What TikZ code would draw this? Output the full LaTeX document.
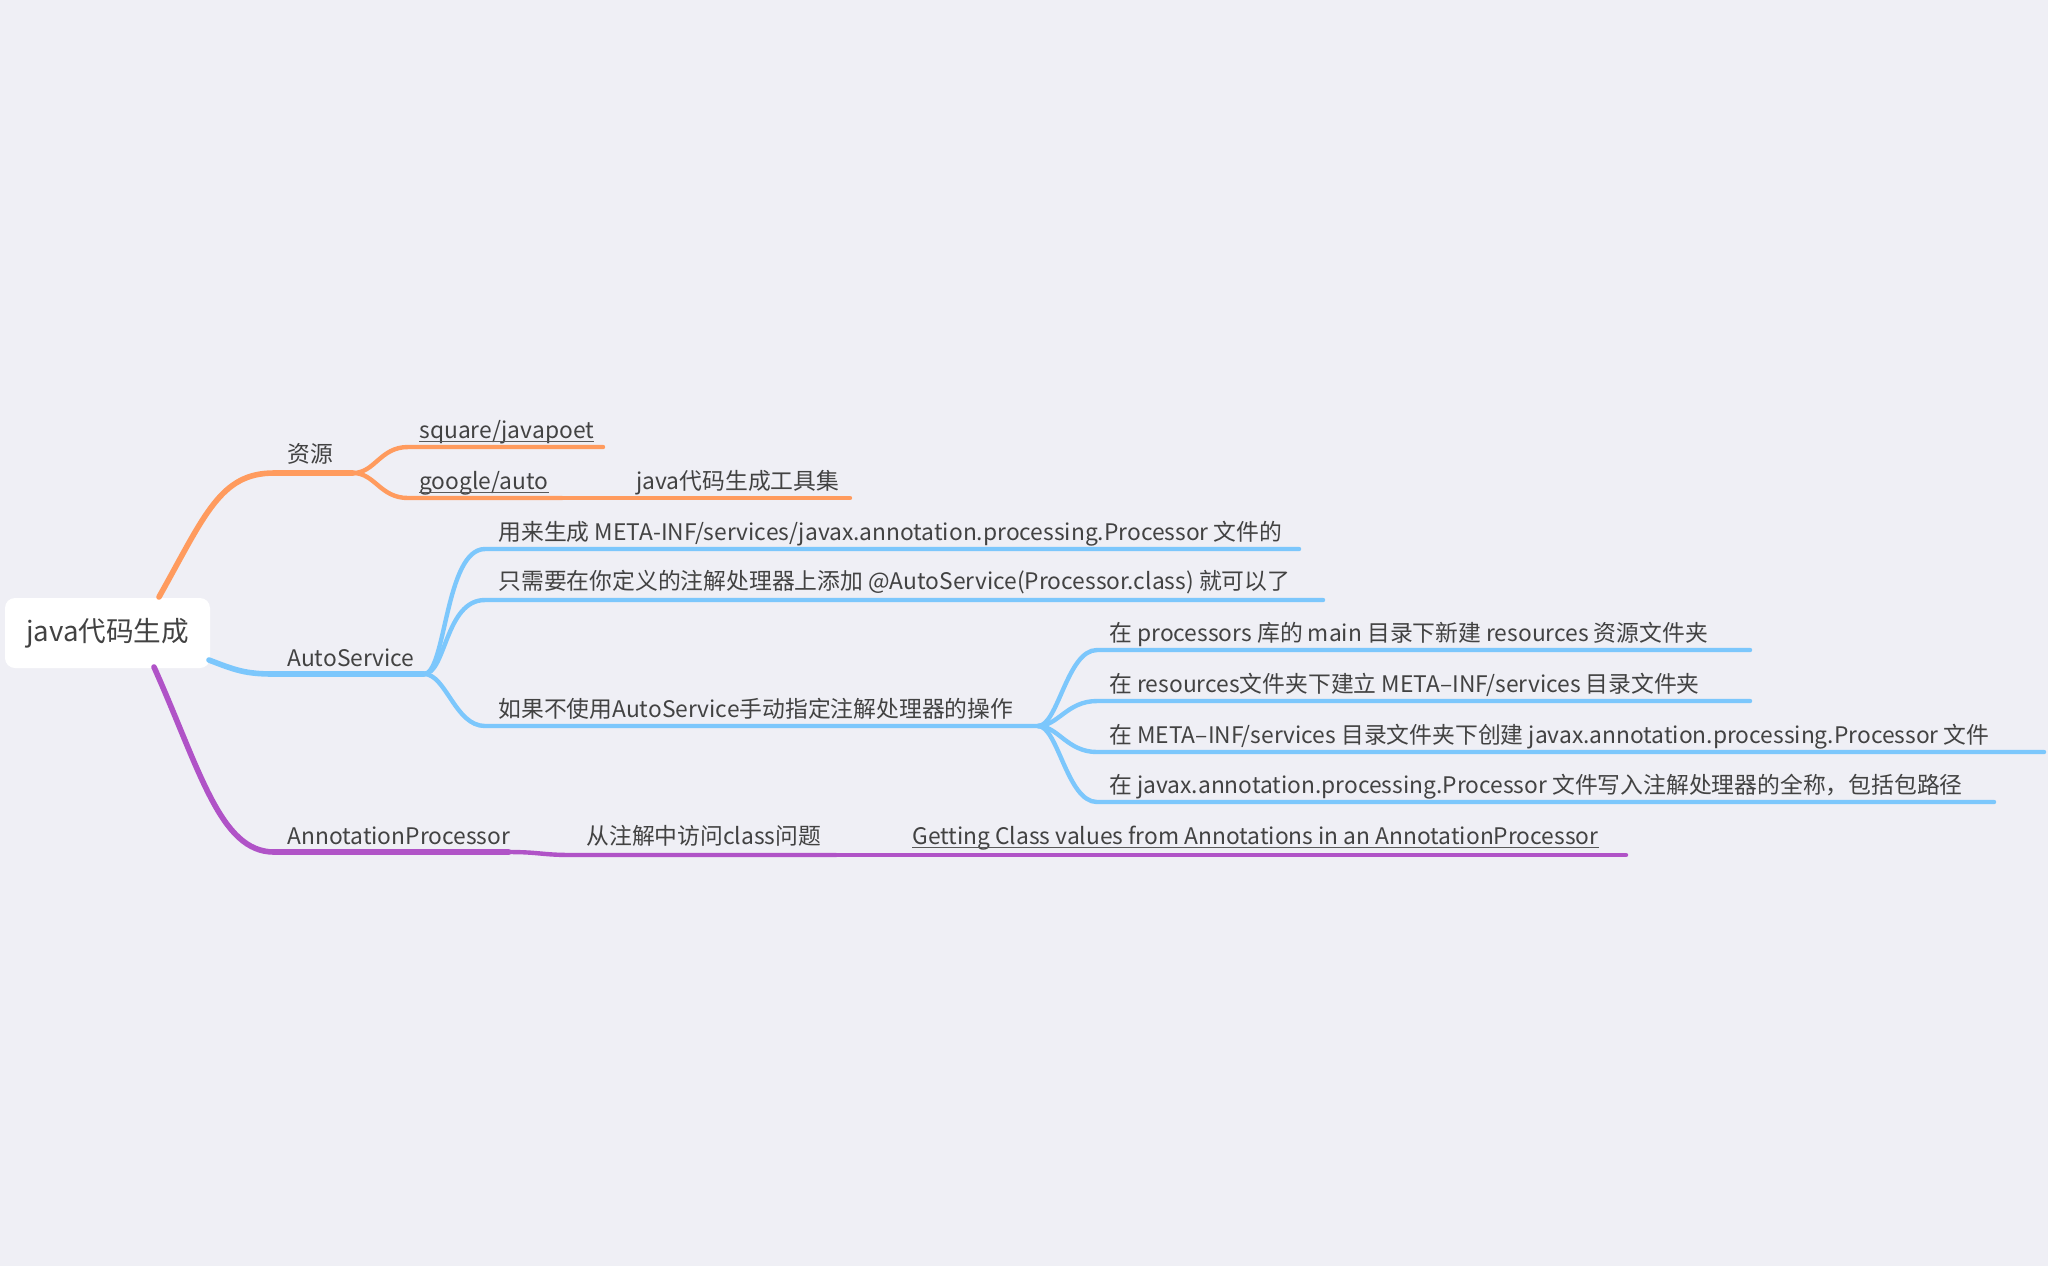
\documentclass[tikz,border=0pt]{standalone}
\usepackage{fontspec}
\setmainfont{Noto Sans CJK SC}
\definecolor{bg}{HTML}{EFEFF5}
\definecolor{orng}{HTML}{FF9B5E}
\definecolor{blu}{HTML}{7CC7FC}
\definecolor{purp}{HTML}{B053C7}
\definecolor{txt}{HTML}{424242}
\definecolor{ulc}{HTML}{5A5A5A}
\tikzset{
  br/.style={line width=2.8pt, line cap=round},
  sub/.style={line width=2.2pt, line cap=round},
  lbl/.style={font=\fontsize{11.4pt}{13pt}\selectfont, text=txt, inner sep=0pt, anchor=base west},
  ul/.style={draw=ulc, line width=0.7pt},
  rootbox/.style={fill=white, rounded corners=5pt, minimum width=102.5pt, minimum height=35pt, inner sep=0pt, text=txt, font=\fontsize{13.8pt}{16pt}\selectfont}
}
\begin{document}
\begin{tikzpicture}[x=0.5pt,y=-0.5pt]
\path[fill=bg, use as bounding box] (0,0) rectangle (2048,1266);

% root
\node[rootbox] (root) at (107.5,633) {java代码生成};

% ---------- coordinates ----------
\coordinate (oS) at (159,597);
\coordinate (oH) at (274,473);
\coordinate (oF) at (353,473);
\coordinate (sq0) at (408,447);
\coordinate (sq1) at (603,447);
\coordinate (go0) at (408,498);
\coordinate (go1) at (562,498);
\coordinate (go2) at (850,498);

\coordinate (bS) at (209,660);
\coordinate (bH) at (274,674);
\coordinate (bF) at (424,674);
\coordinate (b10) at (485,549);
\coordinate (b11) at (1299,549);
\coordinate (b20) at (485,600);
\coordinate (b21) at (1323,600);
\coordinate (b30) at (485,726);
\coordinate (b31) at (1038,726);
\coordinate (c10) at (1097,650);
\coordinate (c11) at (1750,650);
\coordinate (c20) at (1097,701);
\coordinate (c21) at (1750,701);
\coordinate (c30) at (1097,752);
\coordinate (c31) at (2044,752);
\coordinate (c40) at (1097,802);
\coordinate (c41) at (1994,802);

\coordinate (pS) at (154,667);
\coordinate (pH) at (274,852);
\coordinate (pA) at (509,852);
\coordinate (pB) at (572,855);
\coordinate (pC) at (836,855);
\coordinate (pD) at (1626,855);

% ---------- orange ----------
\draw[br, orng] (oS) .. controls (205,515) and (220,473) .. (oH) -- (oF);
\draw[sub, orng] (oF) .. controls +(22,0) and +(-28,0) .. (sq0) -- (sq1);
\draw[sub, orng] (oF) .. controls +(22,0) and +(-28,0) .. (go0) -- (go1);
\draw[sub, orng] (go1) -- (go2);

% ---------- blue ----------
\draw[br, blu] (bS) .. controls (235,670) and (245,674) .. (bH) -- (bF);
\draw[sub, blu] (bF) .. controls +(22,0) and +(-40,0) .. (b10) -- (b11);
\draw[sub, blu] (bF) .. controls +(22,0) and +(-40,0) .. (b20) -- (b21);
\draw[sub, blu] (bF) .. controls +(22,0) and +(-30,0) .. (b30) -- (b31);
\draw[sub, blu] (b31) .. controls +(20,0) and +(-30,0) .. (c10) -- (c11);
\draw[sub, blu] (b31) .. controls +(20,0) and +(-30,0) .. (c20) -- (c21);
\draw[sub, blu] (b31) .. controls +(20,0) and +(-30,0) .. (c30) -- (c31);
\draw[sub, blu] (b31) .. controls +(20,0) and +(-30,0) .. (c40) -- (c41);

% ---------- purple ----------
\draw[br, purp] (pS) .. controls (200,770) and (220,852) .. (pH) -- (pA);
\draw[sub, purp] (pA) .. controls +(30,0) and +(-30,0) .. (pB) -- (pC);
\draw[sub, purp] (pC) -- (pD);

% ---------- labels ----------
\node[lbl] (zy) at (287,462) {资源};
\node[lbl] (sq) at (419,438) {square/javapoet};
\node[lbl] (go) at (419,489) {google/auto};
\node[lbl] (gj) at (636,489) {java代码生成工具集};
\draw[ul] ([yshift=-1.6pt]sq.base west) -- ([yshift=-1.6pt]sq.base east);
\draw[ul] ([yshift=-1.6pt]go.base west) -- ([yshift=-1.6pt]go.base east);

\node[lbl] (as) at (287,666) {AutoService};
\node[lbl] (a1) at (498,540) {用来生成 META-INF/services/javax.annotation.processing.Processor 文件的};
\node[lbl] (a2) at (498,589) {只需要在你定义的注解处理器上添加 @AutoService(Processor.class) 就可以了};
\node[lbl] (a3) at (498,717) {如果不使用AutoService手动指定注解处理器的操作};
\node[lbl] (m1) at (1109,641) {在 processors 库的 main 目录下新建 resources 资源文件夹};
\node[lbl] (m2) at (1109,692) {在 resources文件夹下建立 META–INF/services 目录文件夹};
\node[lbl] (m3) at (1109,743) {在 META–INF/services 目录文件夹下创建 javax.annotation.processing.Processor 文件};
\node[lbl] (m4) at (1109,793) {在 javax.annotation.processing.Processor 文件写入注解处理器的全称，包括包路径};

\node[lbl] (ap) at (287,844) {AnnotationProcessor};
\node[lbl] (fq) at (586,844) {从注解中访问class问题};
\node[lbl] (gc) at (912,844) {Getting Class values from Annotations in an AnnotationProcessor};
\draw[ul] ([yshift=-1.6pt]gc.base west) -- ([yshift=-1.6pt]gc.base east);
\end{tikzpicture}
\end{document}
